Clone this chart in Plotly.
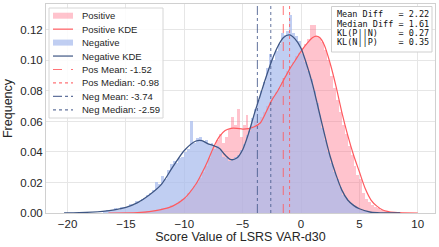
import numpy as np
import plotly.graph_objects as go

# ---------------- data ----------------
bin_width = 0.25

neg_bin_start = -17.0
neg_density = [
    0.001, 0.002, 0.001, 0.002,      # -17..-16
    0.003, 0.002, 0.004, 0.004,      # -16..-15
    0.004, 0.006, 0.005, 0.008,      # -15..-14
    0.007, 0.009, 0.010, 0.012,      # -14..-13
    0.013, 0.015, 0.020, 0.019,      # -13..-12
    0.024, 0.022, 0.028, 0.032,      # -12..-11
    0.034, 0.033, 0.036, 0.037,      # -11..-10
    0.040, 0.042, 0.060, 0.046,      # -10..-9
    0.049, 0.050, 0.047, 0.048,      # -9..-8
    0.045, 0.046, 0.042, 0.044,      # -8..-7
    0.041, 0.037, 0.036, 0.034,      # -7..-6
    0.035, 0.037, 0.038, 0.041,      # -6..-5
    0.045, 0.051, 0.054, 0.062,      # -5..-4
    0.068, 0.074, 0.080, 0.086,      # -4..-3
    0.095, 0.104, 0.100, 0.106,      # -3..-2
    0.111, 0.118, 0.117, 0.119,      # -2..-1
    0.130, 0.118, 0.116, 0.113,      # -1..0
    0.104, 0.099, 0.093, 0.088,      # 0..1
    0.080, 0.072, 0.064, 0.056,      # 1..2
    0.048, 0.040, 0.033, 0.027,      # 2..3
    0.022, 0.017, 0.012, 0.010,      # 3..4
    0.007, 0.006, 0.004, 0.003,      # 4..5
    0.002, 0.0015, 0.001, 0.0008,    # 5..6
    0.0005, 0.0003, 0.0002, 0.0001,  # 6..7
]

pos_bin_start = -14.0
pos_density = [
    0.0003, 0.0005, 0.0008, 0.001,   # -14..-13
    0.001, 0.0015, 0.002, 0.002,     # -13..-12
    0.003, 0.003, 0.004, 0.005,      # -12..-11
    0.005, 0.006, 0.008, 0.009,      # -11..-10
    0.010, 0.013, 0.015, 0.018,      # -10..-9
    0.020, 0.023, 0.027, 0.031,      # -9..-8
    0.036, 0.040, 0.044, 0.048,      # -8..-7
    0.052, 0.046, 0.050, 0.055,      # -7..-6
    0.063, 0.058, 0.068, 0.050,      # -6..-5
    0.058, 0.064, 0.055, 0.057,      # -5..-4
    0.060, 0.058, 0.063, 0.066,      # -4..-3
    0.070, 0.073, 0.077, 0.079,      # -3..-2
    0.082, 0.086, 0.090, 0.093,      # -2..-1
    0.096, 0.099, 0.103, 0.105,      # -1..0
    0.108, 0.111, 0.114, 0.123,      # 0..1
    0.123, 0.116, 0.115, 0.112,      # 1..2
    0.107, 0.100, 0.090, 0.082,      # 2..3
    0.074, 0.066, 0.058, 0.052,      # 3..4
    0.044, 0.038, 0.031, 0.025,      # 4..5
    0.022, 0.013, 0.009, 0.007,      # 5..6
    0.005, 0.004, 0.003, 0.002,      # 6..7
    0.0015, 0.001, 0.0006, 0.0004,   # 7..8
    0.0002, 0.0001,                  # 8..8.5
]

neg_kde_x = [-20.3, -19, -17, -16, -15, -14, -13, -12, -11, -10, -9, -8.5, -8, -7.5, -7,
             -6.5, -6, -5.5, -5, -4.5, -4, -3.5, -3, -2.5, -2, -1.5, -1, -0.5, 0, 0.5,
             1, 1.5, 2, 2.5, 3, 3.5, 4, 4.5, 5, 6, 7, 8.5]
neg_kde_y = [0.0, 0.0002, 0.0011, 0.0020, 0.0037, 0.0068, 0.0118, 0.0184, 0.030, 0.041,
             0.0472, 0.0475, 0.0455, 0.0442, 0.0424, 0.038, 0.0350, 0.0360, 0.0415,
             0.052, 0.065, 0.077, 0.089, 0.100, 0.109, 0.115, 0.1167, 0.114, 0.108,
             0.097, 0.084, 0.068, 0.052, 0.037, 0.025, 0.015, 0.0085, 0.0050, 0.0028,
             0.0005, 0.0001, 0.0]

pos_kde_x = [-16.5, -14, -13, -12, -11, -10, -9, -8.5, -8, -7.5, -7, -6.5, -6, -5.5, -5,
             -4.5, -4, -3.5, -3, -2.5, -2, -1.5, -1, -0.5, 0, 0.5, 1, 1.3, 1.6, 2, 2.5,
             3, 3.5, 4, 4.5, 5, 5.5, 6, 6.5, 7, 8, 10]
pos_kde_y = [0.0, 0.0003, 0.0009, 0.0022, 0.0045, 0.0095, 0.019, 0.026, 0.034, 0.043,
             0.050, 0.054, 0.0555, 0.0555, 0.0550, 0.0553, 0.0565, 0.059, 0.066, 0.074,
             0.080, 0.087, 0.094, 0.100, 0.106, 0.111, 0.1150, 0.1160, 0.1150, 0.110,
             0.098, 0.083, 0.066, 0.051, 0.038, 0.027, 0.016, 0.0085, 0.0045, 0.002,
             0.0004, 0.0]

pos_mean, pos_median = -1.52, -0.98
neg_mean, neg_median = -3.74, -2.59
mean_diff, median_diff = 2.22, 1.61
kl_pn, kl_np = 0.27, 0.35

x_ticks = [-20, -15, -10, -5, 0, 5, 10]
y_ticks = [0.00, 0.02, 0.04, 0.06, 0.08, 0.10, 0.12]

# ---------------- styling ----------------
FONT = "Liberation Sans, Arial, Helvetica, sans-serif"
MONO = "DejaVu Sans Mono, monospace"
TXT = "#262626"
POS_BAR = "rgba(255,105,130,0.40)"
NEG_BAR = "rgba(165,185,236,0.70)"
POS_LINE = "#FF5A5F"
NEG_LINE = "#3E5684"
POS_VLINE = "rgba(255,90,95,0.85)"
NEG_VLINE = "rgba(70,90,140,0.85)"

W, H = 439, 247
ML, MR, MT, MB = 46, 4, 4, 34
PW, PH = W - ML - MR, H - MT - MB


def pxx(xp):
    return (xp - ML) / PW


def pxy(yp):
    return (H - MB - yp) / PH


neg_centers = neg_bin_start + bin_width * (np.arange(len(neg_density)) + 0.5)
pos_centers = pos_bin_start + bin_width * (np.arange(len(pos_density)) + 0.5)

fig = go.Figure()
fig.add_trace(go.Bar(x=pos_centers, y=pos_density, width=bin_width,
                     marker=dict(color=POS_BAR, line=dict(width=0)), showlegend=False))
fig.add_trace(go.Bar(x=neg_centers, y=neg_density, width=bin_width,
                     marker=dict(color=NEG_BAR, line=dict(width=0)), showlegend=False))
fig.add_trace(go.Scatter(x=pos_kde_x, y=pos_kde_y, mode="lines",
                         line=dict(color=POS_LINE, width=1.2, shape="spline", smoothing=0.8),
                         showlegend=False))
fig.add_trace(go.Scatter(x=neg_kde_x, y=neg_kde_y, mode="lines",
                         line=dict(color=NEG_LINE, width=1.3, shape="spline", smoothing=0.8),
                         showlegend=False))

fig.add_vline(x=pos_mean, line=dict(color=POS_VLINE, width=1, dash="dash"))
fig.add_vline(x=pos_median, line=dict(color=POS_VLINE, width=1, dash="dot"))
fig.add_vline(x=neg_mean, line=dict(color=NEG_VLINE, width=1, dash="dashdot"))
fig.add_vline(x=neg_median, line=dict(color=NEG_VLINE, width=1, dash="dot"))

# ---------------- manual legend ----------------
shapes = []
annotations = []
shapes.append(dict(type="rect", xref="paper", yref="paper",
                   x0=pxx(49), x1=pxx(163), y0=pxy(118), y1=pxy(8),
                   fillcolor="rgba(255,255,255,0.85)", line=dict(color="#D6D6D6", width=1),
                   layer="above"))
legend_items = [
    ("Positive", "patch", POS_BAR, None),
    ("Positive KDE", "line", POS_LINE, "solid"),
    ("Negative", "patch", NEG_BAR, None),
    ("Negative KDE", "line", NEG_LINE, "solid"),
    (f"Pos Mean: {pos_mean:.2f}", "line", POS_VLINE, "dash"),
    (f"Pos Median: {pos_median:.2f}", "line", POS_VLINE, "dot"),
    (f"Neg Mean: {neg_mean:.2f}", "line", NEG_VLINE, "dashdot"),
    (f"Neg Median: {neg_median:.2f}", "line", NEG_VLINE, "dot"),
]
for i, (label, kind, col, dash) in enumerate(legend_items):
    yc = 15.7 + 13.45 * i
    if kind == "patch":
        shapes.append(dict(type="rect", xref="paper", yref="paper",
                           x0=pxx(53), x1=pxx(73), y0=pxy(yc + 3), y1=pxy(yc - 3),
                           fillcolor=col, line=dict(width=0), layer="above"))
    else:
        shapes.append(dict(type="line", xref="paper", yref="paper",
                           x0=pxx(53), x1=pxx(73), y0=pxy(yc), y1=pxy(yc),
                           line=dict(color=col, width=1.2, dash=dash), layer="above"))
    annotations.append(dict(xref="paper", yref="paper", x=pxx(80), y=pxy(yc),
                            xanchor="left", yanchor="middle", showarrow=False,
                            text=label, font=dict(family=FONT, size=9.5, color=TXT)))

# ---------------- stats box ----------------
nb = "\u00a0"
stats_lines = [
    f"Mean{nb}Diff{nb*3}={nb}{mean_diff:.2f}",
    f"Median{nb}Diff{nb}={nb}{median_diff:.2f}",
    f"KL(P||N){nb*4}={nb}{kl_pn:.2f}",
    f"KL(N||P){nb*4}={nb}{kl_np:.2f}",
]
shapes.append(dict(type="rect", xref="paper", yref="paper",
                   x0=pxx(331.5), x1=pxx(432), y0=pxy(52), y1=pxy(6.5),
                   fillcolor="white", line=dict(color="#CFCFCF", width=1), layer="above"))
for i, line in enumerate(stats_lines):
    annotations.append(dict(xref="paper", yref="paper", x=pxx(335), y=pxy(14.2 + 9.4 * i),
                            xanchor="left", yanchor="middle", showarrow=False,
                            text=line, font=dict(family=MONO, size=8.5, color="#111111")))

fig.update_layout(
    width=W, height=H,
    margin=dict(l=ML, r=MR, t=MT, b=MB),
    paper_bgcolor="white", plot_bgcolor="white",
    barmode="overlay", bargap=0,
    showlegend=False,
    hovermode=False,
    font=dict(family=FONT, color=TXT),
    shapes=list(fig.layout.shapes) + shapes,
    annotations=annotations,
    xaxis=dict(range=[-21.85, 11.48], tickvals=x_ticks, showgrid=True, gridcolor="#E6E6E6",
               gridwidth=1, zeroline=False, showline=True, mirror=True, linecolor="#D0D0D0",
               linewidth=1, ticks="", tickfont=dict(size=11.5, color=TXT),
               title=dict(text="Score Value of LSRS VAR-d30", font=dict(size=12.5, color=TXT),
                          standoff=0)),
    yaxis=dict(range=[0, 0.137], tickvals=y_ticks, tickformat=".2f", showgrid=True,
               gridcolor="#E6E6E6", gridwidth=1, zeroline=False, showline=True, mirror=True,
               linecolor="#D0D0D0", linewidth=1, ticks="", tickfont=dict(size=11.5, color=TXT),
               title=dict(text="Frequency", font=dict(size=12.5, color=TXT), standoff=4)),
)

fig.write_html("out.html", config={"displayModeBar": False, "staticPlot": True},
               post_script="document.body.style.margin='0px';")
